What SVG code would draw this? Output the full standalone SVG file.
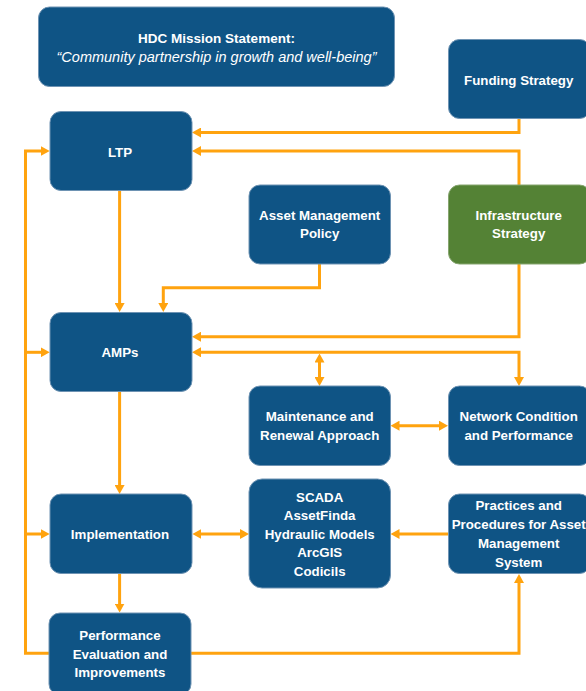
<svg xmlns="http://www.w3.org/2000/svg" width="586" height="691" viewBox="0 0 586 691">
  <style>
    .box { fill: #0F5485; stroke: #6E93B3; stroke-width: 1; }
    .green { fill: #548235; stroke: #86A56F; stroke-width: 1; }
    .lbl { font-family: "Liberation Sans", Arial, sans-serif; font-weight: bold; font-size: 13.3px; fill: #FFFFFF; text-anchor: middle; }
    .ital { font-family: "Liberation Sans", Arial, sans-serif; font-style: italic; font-size: 14.5px; fill: #FFFFFF; text-anchor: middle; }
    .wire { fill: none; stroke: #FFA30F; stroke-width: 3; }
  </style>
  <defs>
    <marker id="head" viewBox="0 0 9 10" markerWidth="9" markerHeight="10" refX="1" refY="5" orient="auto-start-reverse" markerUnits="userSpaceOnUse">
      <path d="M0,0 L9,5 L0,10 Z" fill="#FFA30F"/>
    </marker>
  </defs>

  <rect width="586" height="691" fill="#FFFFFF"/>

  <!-- connectors -->
  <g id="connectors">
    <path class="wire" d="M519,118 V132.5 H200" marker-end="url(#head)"/>
    <path class="wire" d="M519,185 V151 H200" marker-end="url(#head)"/>
    <path class="wire" d="M49,653.3 H25.5 V151 H41.7" marker-end="url(#head)"/>
    <path class="wire" d="M25.5,352.3 H41.7" marker-end="url(#head)"/>
    <path class="wire" d="M25.5,534 H41.7" marker-end="url(#head)"/>
    <path class="wire" d="M119.6,191 V304" marker-end="url(#head)"/>
    <path class="wire" d="M319.5,264 V287.7 H163.3 V304" marker-end="url(#head)"/>
    <path class="wire" d="M519,264 V336.7 H200" marker-end="url(#head)"/>
    <path class="wire" d="M200,352.3 H519 V378" marker-start="url(#head)" marker-end="url(#head)"/>
    <path class="wire" d="M319.5,361.5 V378" marker-start="url(#head)" marker-end="url(#head)"/>
    <path class="wire" d="M398.5,425.7 H440" marker-start="url(#head)" marker-end="url(#head)"/>
    <path class="wire" d="M119.6,392 V486" marker-end="url(#head)"/>
    <path class="wire" d="M200.4,534 H241" marker-start="url(#head)" marker-end="url(#head)"/>
    <path class="wire" d="M448,534 H398.5" marker-end="url(#head)"/>
    <path class="wire" d="M119.6,574 V604.5" marker-end="url(#head)"/>
    <path class="wire" d="M191,653.3 H519 V582" marker-end="url(#head)"/>
  </g>

  <!-- nodes -->
  <g id="mission">
    <rect class="box" x="38.5" y="7" width="356" height="79.5" rx="11"/>
    <text class="lbl" x="216.5" y="43" style="font-size:13.5px">HDC Mission Statement:</text>
    <text class="ital" x="216.5" y="62">“Community partnership in growth and well-being”</text>
  </g>
  <g id="funding">
    <rect class="box" x="448.5" y="39.5" width="142" height="79" rx="11"/>
    <text class="lbl" x="518.7" y="84.5">Funding Strategy</text>
  </g>
  <g id="ltp">
    <rect class="box" x="50" y="111.5" width="142" height="79" rx="11"/>
    <text class="lbl" x="120" y="156.5">LTP</text>
  </g>
  <g id="am-policy">
    <rect class="box" x="249" y="185" width="141.5" height="79" rx="11"/>
    <text class="lbl" x="319.7" y="219.5">Asset Management</text>
    <text class="lbl" x="319.7" y="237.8">Policy</text>
  </g>
  <g id="infra">
    <rect class="green" x="448.5" y="185" width="142" height="79" rx="11"/>
    <text class="lbl" x="518.7" y="219.5">Infrastructure</text>
    <text class="lbl" x="518.7" y="237.8">Strategy</text>
  </g>
  <g id="amps">
    <rect class="box" x="50" y="312.5" width="142" height="79" rx="11"/>
    <text class="lbl" x="120" y="356.5">AMPs</text>
  </g>
  <g id="maintenance">
    <rect class="box" x="249" y="386" width="141.5" height="79.5" rx="11"/>
    <text class="lbl" x="319.7" y="421">Maintenance and</text>
    <text class="lbl" x="319.7" y="439.5">Renewal Approach</text>
  </g>
  <g id="network">
    <rect class="box" x="448.5" y="386" width="142" height="79.5" rx="11"/>
    <text class="lbl" x="518.7" y="421">Network Condition</text>
    <text class="lbl" x="518.7" y="439.5">and Performance</text>
  </g>
  <g id="implementation">
    <rect class="box" x="50" y="494" width="142" height="79.5" rx="11"/>
    <text class="lbl" x="120" y="538.5">Implementation</text>
  </g>
  <g id="systems">
    <rect class="box" x="249" y="479" width="141.5" height="109" rx="13"/>
    <text class="lbl" x="319.7" y="501.5">SCADA</text>
    <text class="lbl" x="319.7" y="520">AssetFinda</text>
    <text class="lbl" x="319.7" y="538.5">Hydraulic Models</text>
    <text class="lbl" x="319.7" y="557">ArcGIS</text>
    <text class="lbl" x="319.7" y="575.5">Codicils</text>
  </g>
  <g id="practices">
    <rect class="box" x="448.5" y="494" width="142" height="79.5" rx="11"/>
    <text class="lbl" x="518.7" y="510">Practices and</text>
    <text class="lbl" x="518.7" y="528.5">Procedures for Asset</text>
    <text class="lbl" x="518.7" y="547.5">Management</text>
    <text class="lbl" x="518.7" y="566.5">System</text>
  </g>
  <g id="performance">
    <rect class="box" x="49" y="613" width="142" height="82" rx="11"/>
    <text class="lbl" x="120" y="640">Performance</text>
    <text class="lbl" x="120" y="658.5">Evaluation and</text>
    <text class="lbl" x="120" y="677">Improvements</text>
  </g>
</svg>
